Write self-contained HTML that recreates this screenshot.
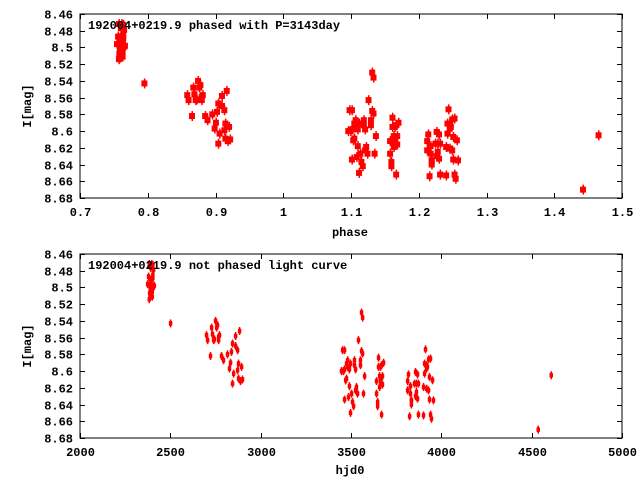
<!DOCTYPE html>
<html><head><meta charset="utf-8"><style>
html,body{margin:0;padding:0;background:#fff}
svg text{font-family:"Liberation Mono","DejaVu Sans Mono",monospace;font-weight:bold;font-size:12px;fill:#000}
</style></head><body>
<svg id="chart" width="640" height="480" viewBox="0 0 640 480" xmlns="http://www.w3.org/2000/svg">
<rect width="640" height="480" fill="#fff"/>
<g id="top"></g>
<g id="bot"></g>
</svg>
<script>
const period = 3143;
const t0 = 2390;
const phase0 = 0.76;
const hjd = [2382,2395,2402,2391,2406,2378,2402,2384,2397,2391,2373,2406,2397,2387,2410,2384,2399,2387,2399,2382,2393,2402,
2500,
2749,2727,2760,2755,2699,2732,2771,2766,2705,2738,2743,2766,2860,2882,2843,2860,2871,2837,2815,2721,2782,2793,2832,2876,2893,2826,2871,2849,2876,2887,2898,2843,
3557,3563,3540,3452,3463,3557,3563,3480,3496,3518,3551,3474,3480,3518,3551,3463,3446,3490,3524,3457,3574,3474,3469,3490,3529,3524,3502,3535,3568,3485,3463,3507,3513,3496,
3651,3679,3668,3651,3662,3657,3673,3640,3662,3662,3673,3657,3640,3646,3646,3668,
3911,3928,3939,3906,3917,3922,3917,3856,3867,3906,3817,3933,3950,3812,3850,3861,3872,3828,3900,3917,3928,3812,3861,3828,3856,3867,3833,3833,3833,3933,3955,3823,3872,3900,3939,3944,
4535,4607];
const mag = [8.472,8.472,8.473,8.477,8.479,8.487,8.485,8.489,8.491,8.495,8.496,8.499,8.500,8.501,8.498,8.507,8.505,8.512,8.511,8.514,8.509,8.489,
8.543,
8.540,8.548,8.545,8.548,8.557,8.556,8.557,8.559,8.563,8.563,8.562,8.563,8.558,8.552,8.567,8.570,8.575,8.577,8.580,8.582,8.582,8.587,8.590,8.591,8.595,8.597,8.599,8.603,8.609,8.612,8.610,8.615,
8.530,8.536,8.563,8.575,8.575,8.576,8.579,8.587,8.591,8.587,8.587,8.591,8.595,8.593,8.593,8.598,8.600,8.598,8.598,8.600,8.606,8.609,8.611,8.618,8.619,8.623,8.627,8.627,8.627,8.631,8.634,8.637,8.642,8.650,
8.584,8.590,8.593,8.595,8.595,8.606,8.606,8.612,8.611,8.615,8.616,8.619,8.627,8.637,8.642,8.652,
8.574,8.586,8.585,8.591,8.593,8.595,8.597,8.601,8.604,8.603,8.604,8.607,8.611,8.612,8.615,8.615,8.615,8.618,8.619,8.621,8.623,8.623,8.625,8.627,8.630,8.633,8.635,8.635,8.640,8.634,8.635,8.654,8.652,8.653,8.652,8.657,
8.670,8.605];
const yTicks = ["8.46","8.48","8.5","8.52","8.54","8.56","8.58","8.6","8.62","8.64","8.66","8.68"];
const xTicksTop = ["0.7","0.8","0.9","1","1.1","1.2","1.3","1.4","1.5"];
const xTicksBot = ["2000","2500","3000","3500","4000","4500","5000"];

const NS="http://www.w3.org/2000/svg";
function mk(parent,tag,attrs,name){const e=document.createElementNS(NS,tag);for(const k in attrs)e.setAttribute(k,attrs[k]);


parent.appendChild(e);return e;}

function panel(g,top,xmin,xmax,xt,xs,title,xlabel,big,xlabY){
  const L=80,R=622,T=top,B=top+184;
  const ymin=8.46,ymax=8.68;
  const sx=v=>L+(v-xmin)/(xmax-xmin)*(R-L);
  const sy=v=>T+(v-ymin)/(ymax-ymin)*(B-T);
  mk(g,'rect',{x:L,y:T,width:R-L,height:B-T,fill:'none',stroke:'#000','stroke-width':1},'plot-frame');
  yTicks.forEach(t=>{const y=Math.round(sy(+t))+0.5;
    mk(g,'line',{x1:L,y1:y,x2:L+5,y2:y,stroke:'#000'},'y-tick');
    mk(g,'line',{x1:R-5,y1:y,x2:R,y2:y,stroke:'#000'},'y-tick-mirror');
    const tx=mk(g,'text',{x:73,y:y+4,'text-anchor':'end'},'y-tick-label');tx.textContent=t;});
  xt.forEach(t=>{const x=Math.round(sx(+t))+0.5;
    mk(g,'line',{x1:x,y1:B,x2:x,y2:B-5,stroke:'#000'},'x-tick');
    mk(g,'line',{x1:x,y1:T,x2:x,y2:T+5,stroke:'#000'},'x-tick-mirror');
    const tx=mk(g,'text',{x:x,y:B+18,'text-anchor':'middle'},'x-tick-label');tx.textContent=t;});
  const yl=mk(g,'text',{x:31,y:(T+B)/2,'text-anchor':'middle',transform:`rotate(-90 31 ${(T+B)/2})`},'y-axis-title');yl.textContent='I[mag]';
  const xl=mk(g,'text',{x:350,y:xlabY,'text-anchor':'middle'},'x-axis-title');xl.textContent=xlabel;
  const pts=mk(g,'g',{fill:'#ff0000'},'data-series');
  xs.forEach((v,i)=>{const x=sx(v),y=sy(mag[i]);
    if(big){mk(pts,'rect',{x:x-3,y:y-3,width:6,height:6},'data-point');
      mk(pts,'rect',{x:x-0.5,y:y-5,width:1.5,height:10},'error-bar');}
    else{mk(pts,'rect',{x:x-1.5,y:y-2.5,width:3.5,height:5,rx:1},'data-point');
      mk(pts,'rect',{x:x-0.5,y:y-4,width:1.5,height:8},'error-bar');}
  });
  const tt=mk(g,'text',{x:88,y:T+15},'plot-title');tt.textContent=title;
}
const phase=hjd.map(h=>phase0+(h-t0)/period);
panel(document.getElementById('top'),14,0.7,1.5,xTicksTop,phase,'192004+0219.9 phased with P=3143day','phase',true,236);
panel(document.getElementById('bot'),254,2000,5000,xTicksBot,hjd,'192004+0219.9 not phased light curve','hjd0',false,474);
</script>
</body></html>
